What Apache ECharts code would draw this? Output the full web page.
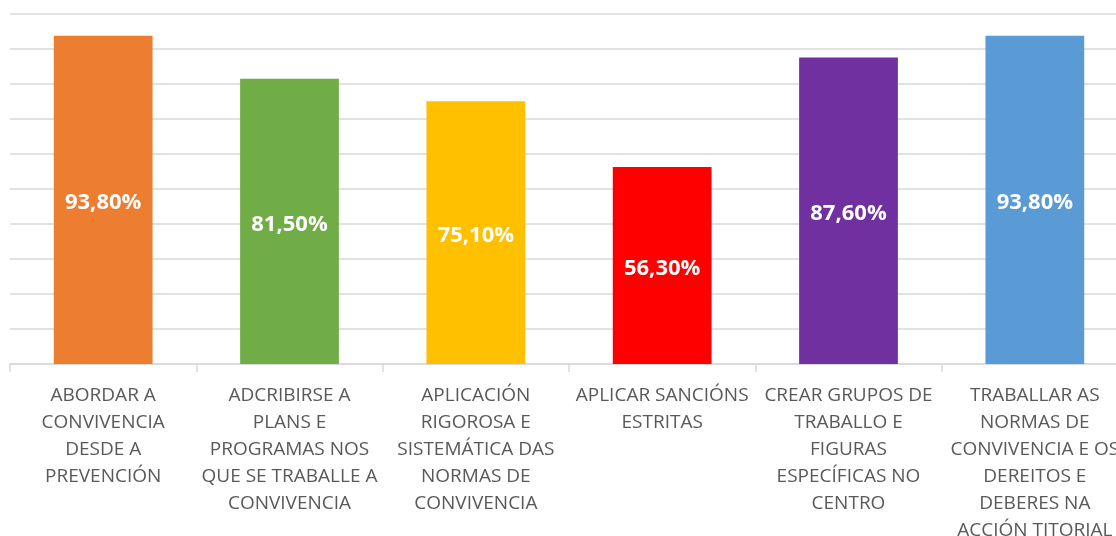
<!DOCTYPE html>
<html lang="gl">
<head>
<meta charset="UTF-8">
<title>Convivencia</title>
<style>
  html, body { margin: 0; padding: 0; background: #fff; }
  #main { width: 1116px; height: 536px; }
</style>
</head>
<body>
<div id="main"></div>
<script src="https://cdn.jsdelivr.net/npm/echarts@6/dist/echarts.min.js"></script>
<script>
var categories = [
  'ABORDAR A\nCONVIVENCIA\nDESDE A\nPREVENCIÓN',
  'ADCRIBIRSE A\nPLANS E\nPROGRAMAS NOS\nQUE SE TRABALLE A\nCONVIVENCIA',
  'APLICACIÓN\nRIGOROSA E\nSISTEMÁTICA DAS\nNORMAS DE\nCONVIVENCIA',
  'APLICAR SANCIÓNS\nESTRITAS',
  'CREAR GRUPOS DE\nTRABALLO E\nFIGURAS\nESPECÍFICAS NO\nCENTRO',
  'TRABALLAR AS\nNORMAS DE\nCONVIVENCIA E OS\nDEREITOS E\nDEBERES NA\nACCIÓN TITORIAL'
];
var values = [93.8, 81.5, 75.1, 56.3, 87.6, 93.8];
var colors = ['#ED7D31', '#70AD47', '#FFC000', '#FF0000', '#7030A0', '#5B9BD5'];

var myChart = echarts.init(document.getElementById('main'));

var seriesData = [];
for (var i = 0; i < values.length; i++) {
  seriesData.push({ value: values[i], itemStyle: { color: colors[i] } });
}

var option = {
  animation: false,
  grid: { left: 10, width: 1118, top: 14, height: 350, containLabel: false, outerBoundsMode: 'none' },
  xAxis: {
    type: 'category',
    data: categories,
    axisLine: { lineStyle: { color: '#d9d9d9', width: 1.5 } },
    axisTick: { show: true, length: 8, lineStyle: { color: '#d9d9d9', width: 1.5 } },
    axisLabel: {
      interval: 0,
      margin: 18,
      color: '#595959',
      fontFamily: 'Open Sans',
      fontSize: 19,
      lineHeight: 27
    }
  },
  yAxis: {
    type: 'value',
    min: 0,
    max: 100,
    interval: 10,
    axisLabel: { show: false },
    axisLine: { show: false },
    axisTick: { show: false },
    splitLine: { lineStyle: { color: '#d9d9d9', width: 1.5 } }
  },
  series: [{
    type: 'bar',
    data: seriesData,
    barCategoryGap: '47%',
    label: {
      show: true,
      position: 'inside',
      offset: [0, 3],
      color: '#fff',
      fontFamily: 'Open Sans',
      fontWeight: 'bold',
      fontSize: 22,
      formatter: function (p) {
        return p.value.toFixed(2).replace('.', ',') + '%';
      }
    }
  }]
};

myChart.setOption(option);
</script>
</body>
</html>
